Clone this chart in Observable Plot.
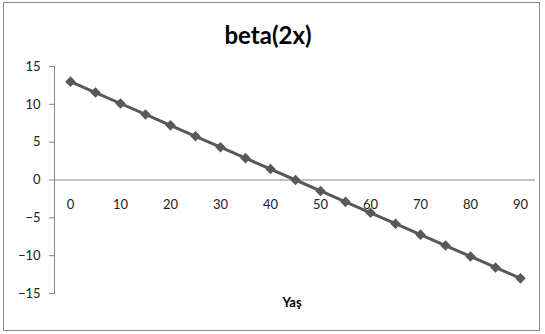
<!DOCTYPE html>
<html>
<head>
<meta charset="utf-8">
<script src="https://cdn.jsdelivr.net/npm/d3@7"></script>
<script src="https://cdn.jsdelivr.net/npm/@observablehq/plot@0.6"></script>
<style>
  html, body { margin: 0; padding: 0; background: #fff; }
  #wrap { position: relative; width: 545px; height: 334px; }
  #border { position: absolute; left: 3px; top: 2px; width: 537px; height: 329px; border: 1px solid #888; box-sizing: border-box; pointer-events: none; }
  #wrap svg { position: absolute; left: 0; top: 0; }
</style>
</head>
<body>
<div id="wrap"><div id="border"></div></div>
<script>
const ages = [0, 5, 10, 15, 20, 25, 30, 35, 40, 45, 50, 55, 60, 65, 70, 75, 80, 85, 90];
const beta = [13, 11.56, 10.11, 8.67, 7.22, 5.78, 4.33, 2.89, 1.44, 0, -1.44, -2.89, -4.33, -5.78, -7.22, -8.67, -10.11, -11.56, -13];
const xLabels = [0, 10, 20, 30, 40, 50, 60, 70, 80, 90];
const yTicks = [-15, -10, -5, 0, 5, 10, 15];
const title = "beta(2x)";
const xTitle = "Yaş";

const data = ages.map((a, i) => ({age: a, value: beta[i]}));
const font = "Lato, 'Liberation Sans', sans-serif";

const chart = Plot.plot({
  width: 545,
  height: 334,
  marginLeft: 54,
  marginRight: 10,
  marginTop: 66,
  marginBottom: 41,
  style: {fontFamily: font, fontSize: "13px", color: "#222", background: "transparent"},
  x: {type: "point", domain: ages, padding: 0.5, axis: null},
  y: {domain: [-15, 15], ticks: yTicks, axis: null},
  marks: [
    Plot.frame({anchor: "left", stroke: "#868686"}),
    Plot.ruleY([0], {stroke: "#868686"}),
    Plot.axisY({ticks: yTicks, tickSize: 5, tickPadding: 9, stroke: "#868686", fill: "#222", fontSize: 13, label: null}),
    Plot.text(xLabels, {x: d => d, y: () => 0, dy: 25, text: d => String(d), fill: "#222", fontSize: 13}),
    Plot.line(data, {x: "age", y: "value", stroke: "#595959", strokeWidth: 3}),
    Plot.dot(data, {x: "age", y: "value", symbol: "square", rotate: 45, r: 4.2, fill: "#595959", stroke: "none"}),
    Plot.text([title], {frameAnchor: "top", dy: -40, text: d => d, fontSize: 24, fontWeight: "bold", fill: "#000", dx: -27}),
    Plot.text([xTitle], {frameAnchor: "bottom", dy: 13, text: d => d, fontSize: 13, fontWeight: "bold", fill: "#000", dx: -3})
  ]
});
document.getElementById("wrap").appendChild(chart);
</script>
</body>
</html>
